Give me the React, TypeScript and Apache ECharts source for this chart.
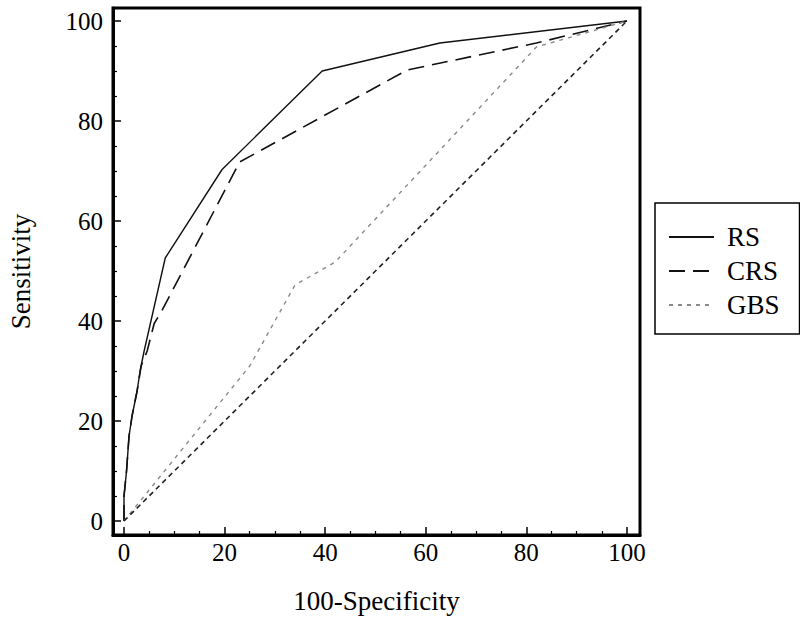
import React, { useEffect, useRef } from "react";
import * as echarts from "echarts";

const xTicks = [0, 20, 40, 60, 80, 100];
const yTicks = [0, 20, 40, 60, 80, 100];
const minorTicks = [5, 10, 15, 25, 30, 35, 45, 50, 55, 65, 70, 75, 85, 90, 95];
const seriesNames = ["RS", "CRS", "GBS"];

const rsX = [0, 0, 0.5, 1, 1.6, 2.6, 3.2, 4, 8.2, 19.5, 39.4, 62.8, 100];
const rsY = [0, 5, 10, 17, 21, 26, 30, 34, 52.6, 70.3, 90, 95.6, 100];

const crsX = [0, 0, 0.5, 1, 1.6, 2.6, 3.4, 4.6, 6, 7.5, 23, 56.3, 82, 100];
const crsY = [0, 5, 10, 17, 21, 26, 31, 34, 39.5, 42, 71.8, 90.2, 95.6, 100];

const gbsX = [0, 25, 34, 42, 82, 100];
const gbsY = [0, 31, 47.2, 51.8, 94.8, 100];

const refX = [0, 100];
const refY = [0, 100];

const zip = (xs: number[], ys: number[]) => xs.map((x, i) => [x, ys[i]]);

const FONT = "Liberation Serif";
const X_MIN = -2.19;
const X_MAX = 102.6;
const Y_MIN = -2.8;
const Y_MAX = 102.6;

export default function App() {
  const ref = useRef<HTMLDivElement>(null);
  useEffect(() => {
    if (!ref.current) return;
    const chart = echarts.init(ref.current, undefined, { renderer: "svg" });
    const majorAxis = (min: number, max: number, ticks: number[]) => ({
      type: "value" as const,
      min,
      max,
      splitLine: { show: false },
      axisLine: { show: true, onZero: false, lineStyle: { color: "#000", width: 3 } },
      axisTick: {
        show: true,
        inside: true,
        length: 8,
        customValues: ticks,
        lineStyle: { color: "#000", width: 1.5 },
      },
      axisLabel: {
        color: "#000",
        fontSize: 25,
        fontFamily: FONT,
        customValues: ticks,
      },
      nameLocation: "middle" as const,
      nameTextStyle: { color: "#000", fontSize: 27, fontFamily: FONT },
    });
    const minorAxis = (min: number, max: number, position: string) => ({
      type: "value" as const,
      min,
      max,
      position,
      splitLine: { show: false },
      axisLine: { show: false, onZero: false },
      axisLabel: { show: false },
      axisTick: {
        show: true,
        inside: true,
        length: 4,
        customValues: minorTicks,
        lineStyle: { color: "#000", width: 1.2 },
      },
    });
    chart.setOption({
      animation: false,
      backgroundColor: "#fff",
      grid: {
        left: 113,
        right: 160,
        top: 8,
        bottom: 87,
        containLabel: false,
        outerBoundsMode: "none",
      },
      xAxis: [
        {
          ...majorAxis(X_MIN, X_MAX, xTicks),
          position: "bottom",
          name: "100-Specificity",
          nameGap: 52,
          axisLabel: { ...majorAxis(X_MIN, X_MAX, xTicks).axisLabel, margin: 5 },
        },
        minorAxis(X_MIN, X_MAX, "bottom"),
      ],
      yAxis: [
        {
          ...majorAxis(Y_MIN, Y_MAX, yTicks),
          position: "left",
          name: "Sensitivity",
          nameGap: 79,
          axisLabel: { ...majorAxis(Y_MIN, Y_MAX, yTicks).axisLabel, margin: 10 },
        },
        minorAxis(Y_MIN, Y_MAX, "left"),
      ],
      legend: {
        data: seriesNames,
        orient: "vertical",
        left: 655,
        top: 203,
        borderColor: "#000",
        borderWidth: 1.5,
        padding: [20, 20, 15, 13],
        itemWidth: 45,
        itemHeight: 14,
        itemGap: 6,
        itemStyle: { opacity: 0 },
        textStyle: {
          color: "#000",
          fontSize: 27,
          fontFamily: FONT,
          lineHeight: 28,
          padding: [0, 0, 0, 8],
        },
      },
      graphic: [
        {
          type: "rect",
          shape: { x: 113, y: 8, width: 527, height: 527 },
          style: { fill: "none", stroke: "#000", lineWidth: 3 },
          z: 100,
        },
      ],
      series: [
        {
          name: "RS",
          type: "line",
          data: zip(rsX, rsY),
          symbol: "none",
          lineStyle: { color: "#111", width: 1.4, type: "solid" },
          itemStyle: { color: "#111" },
        },
        {
          name: "CRS",
          type: "line",
          data: zip(crsX, crsY),
          symbol: "none",
          lineStyle: { color: "#111", width: 1.6, type: [16, 8] },
          itemStyle: { color: "#111" },
        },
        {
          name: "GBS",
          type: "line",
          data: zip(gbsX, gbsY),
          symbol: "none",
          lineStyle: { color: "#8a8a8a", width: 1.4, type: [4, 5] },
          itemStyle: { color: "#8a8a8a" },
        },
        {
          name: "Reference",
          type: "line",
          data: zip(refX, refY),
          symbol: "none",
          lineStyle: { color: "#222", width: 1.6, type: [5, 4] },
          itemStyle: { color: "#222" },
        },
      ],
    });
    return () => chart.dispose();
  }, []);
  return (
    <div
      ref={ref}
      style={{ position: "fixed", left: 0, top: 0, width: 800, height: 622, background: "#fff" }}
    />
  );
}
